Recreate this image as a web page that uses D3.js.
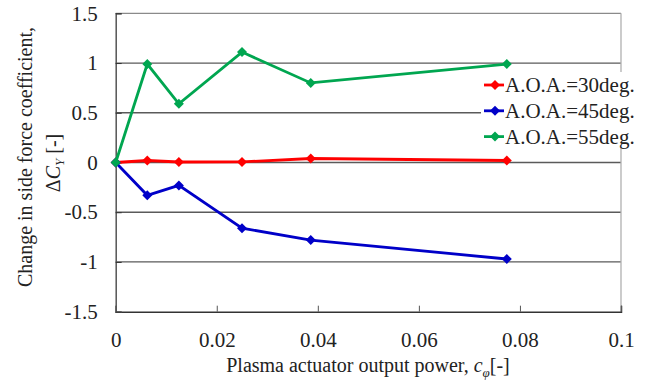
<!DOCTYPE html>
<html>
  <head>
    <meta charset="utf-8">
    <script src="https://d3js.org/d3.v7.min.js"></script>
    <style>
      body {
        margin: 0px;
        background: #ffffff;
      }
      text {
        font-family: "Liberation Serif", "Times New Roman", serif;
        fill: #222222;
      }
    </style>
  </head>
  <body>
    <svg width="650" height="381"></svg>
    <script>
      // plasma actuator output power
      var power = [0, 0.00625, 0.0125, 0.025, 0.0386, 0.0774];

      var seriesNames = ["A.O.A.=30deg.", "A.O.A.=45deg.", "A.O.A.=55deg."];
      var aoa30 = [0, 0.02, 0.005, 0.006, 0.04, 0.02];
      var aoa45 = [0, -0.33, -0.23, -0.66, -0.78, -0.97];
      var aoa55 = [0, 0.99, 0.59, 1.11, 0.80, 0.99];

      var xTicks = [0, 0.02, 0.04, 0.06, 0.08, 0.1];
      var yTicks = [-1.5, -1, -0.5, 0, 0.5, 1, 1.5];

      var colors = ["#ff0000", "#0000c8", "#00a650"];
      var series = [aoa30, aoa45, aoa55];

      var plotL = 115.7, plotR = 621, plotT = 13.3, plotB = 311.7;

      var svg = d3.select("svg");

      var xScale = d3.scaleLinear().domain([0, 0.1]).range([plotL, plotR]);
      var yScale = d3.scaleLinear().domain([-1.5, 1.5]).range([plotB, plotT]);

      // plain hyphen for negatives, like the original
      var fmt = function(d){ return String(d); };

      // horizontal grid lines
      svg.append("g")
        .selectAll("line")
        .data(yTicks.filter(function(d){ return d > -1.5 && d < 1.5; }))
        .enter()
        .append("line")
          .attr("x1", plotL)
          .attr("x2", plotR)
          .attr("y1", function(d){ return yScale(d); })
          .attr("y2", function(d){ return yScale(d); })
          .style("stroke", "#5a5a5a")
          .style("stroke-width", 1.3);

      // frame: top and right lighter
      svg.append("line")
        .attr("x1", plotL).attr("x2", plotR)
        .attr("y1", plotT).attr("y2", plotT)
        .style("stroke", "#8a8a8a").style("stroke-width", 1.3);
      svg.append("line")
        .attr("x1", plotR).attr("x2", plotR)
        .attr("y1", plotT).attr("y2", plotB)
        .style("stroke", "#b0b0b0").style("stroke-width", 1.3);

      var xAxis = d3.axisBottom(xScale)
        .tickValues(xTicks)
        .tickSize(-6)
        .tickPadding(20)
        .tickFormat(fmt);

      var yAxis = d3.axisLeft(yScale)
        .tickValues(yTicks)
        .tickSize(-6)
        .tickPadding(18)
        .tickFormat(fmt);

      var gx = svg.append("g")
        .attr("transform", "translate(0," + plotB + ")")
        .call(xAxis);
      gx.select(".domain").style("stroke", "#333333").style("stroke-width", 1.5);
      gx.selectAll(".tick line").style("stroke", "#555555");
      gx.selectAll(".tick text")
        .style("font-size", "21px")
        .style("fill", "#222222")
        .style("font-family", "'Liberation Serif', serif");

      var gy = svg.append("g")
        .attr("transform", "translate(" + plotL + ",0)")
        .call(yAxis);
      gy.select(".domain").style("stroke", "#555555").style("stroke-width", 1.5);
      gy.selectAll(".tick line").style("stroke", "#333333");
      gy.selectAll(".tick text")
        .style("font-size", "21px")
        .style("fill", "#222222")
        .style("font-family", "'Liberation Serif', serif");

      var line = d3.line()
        .x(function(d, i){ return xScale(power[i]); })
        .y(function(d){ return yScale(d); });

      var diamond = "M0,-5L5,0L0,5L-5,0Z";

      series.forEach(function(vals, k) {
        svg.append("path")
          .datum(vals)
          .attr("d", line)
          .style("fill", "none")
          .style("stroke", colors[k])
          .style("stroke-width", 2.8);
        svg.append("g")
          .selectAll("path")
          .data(vals)
          .enter()
          .append("path")
            .attr("d", diamond)
            .attr("transform", function(d, i){
              return "translate(" + xScale(power[i]) + "," + yScale(d) + ")";
            })
            .style("fill", colors[k]);
      });

      // legend
      svg.append("rect")
        .attr("x", 481)
        .attr("y", 72)
        .attr("width", 165)
        .attr("height", 76)
        .style("fill", "#ffffff");

      var legend = svg.append("g")
        .selectAll("g")
        .data(seriesNames)
        .enter()
        .append("g")
          .attr("transform", function(d, i){ return "translate(484," + (85 + i * 25.8) + ")"; });

      legend.append("line")
        .attr("x1", 0).attr("x2", 20)
        .attr("y1", 0).attr("y2", 0)
        .style("stroke", function(d, i){ return colors[i]; })
        .style("stroke-width", 2.8);
      legend.append("path")
        .attr("d", diamond)
        .attr("transform", "translate(11,0)")
        .style("fill", function(d, i){ return colors[i]; });
      legend.append("text")
        .attr("x", 21)
        .attr("y", 7)
        .style("font-size", "21px")
        .text(function(d){ return d; });

      // axis titles
      var xt = svg.append("text")
        .attr("text-anchor", "middle")
        .attr("x", 368)
        .attr("y", 372)
        .style("font-size", "20px");
      xt.append("tspan").text("Plasma actuator output power, ");
      xt.append("tspan").style("font-style", "italic").text("c");
      xt.append("tspan").style("font-style", "italic").style("font-size", "13px")
        .attr("dy", 5).text("\u03c6");
      xt.append("tspan").attr("dy", -5).text("[-]");

      svg.append("text")
        .attr("text-anchor", "middle")
        .attr("transform", "translate(32,157) rotate(-90)")
        .style("font-size", "20px")
        .text("Change in side force coefficient,");

      var yt = svg.append("text")
        .attr("text-anchor", "middle")
        .attr("transform", "translate(60,163) rotate(-90)")
        .style("font-size", "20px");
      yt.append("tspan").text("\u0394");
      yt.append("tspan").style("font-style", "italic").text("C");
      yt.append("tspan").style("font-style", "italic").style("font-size", "13px")
        .attr("dy", 4).text("Y");
      yt.append("tspan").attr("dy", -4).text(" [-]");
    </script>
  </body>
</html>
